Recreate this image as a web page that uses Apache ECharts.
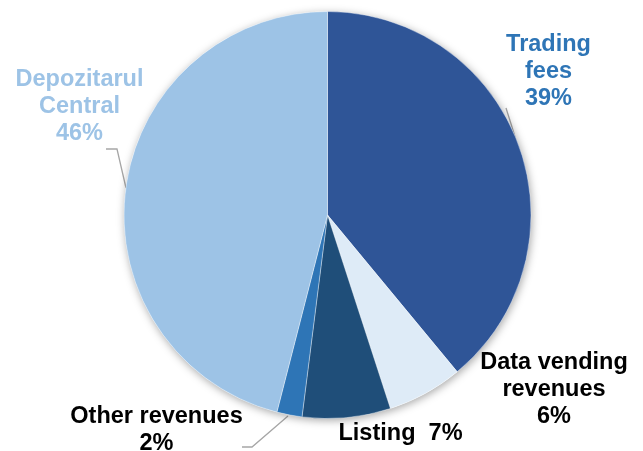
<!DOCTYPE html>
<html>
<head>
<meta charset="utf-8">
<script src="https://cdn.jsdelivr.net/npm/echarts@6/dist/echarts.min.js"></script>
<style>
    html, body { margin: 0; padding: 0; background: #fff; }
    #chart { width: 643px; height: 451px; }
</style>
</head>
<body>
<div id="chart"></div>
<script>
// 数据
var categories = ["Trading\nfees", "Data vending\nrevenues", "Listing", "Other revenues", "Depozitarul\nCentral"];
var values = [39, 6, 7, 2, 46];
var colors = ["#2F5597", "#DEEBF7", "#1F4E79", "#2E75B6", "#9DC3E6"];
var labelColors = ["#2E75B6", "#000000", "#000000", "#000000", "#9DC3E6"];

// 标签位置 (中心点) 和引导线
var labelPos = [[548.5, 72], [554, 390], [400.5, 433.5], [156.5, 430], [79.5, 106.5]];
var linePoints = [
    [[506, 108], [512, 127], [518, 147]],
    null,
    null,
    [[242, 447], [252, 447], [288, 416]],
    [[106, 149], [117, 149], [126, 188]]
];

var chart = echarts.init(document.getElementById("chart"));

var pieData = values.map(function (v, i) {
    return {
        name: categories[i],
        value: v,
        itemStyle: { color: colors[i] },
        label: { color: labelColors[i] },
        labelLine: { show: !!linePoints[i] }
    };
});

chart.setOption({
    animation: false,
    series: [
        {
            // 阴影底盘
            type: "pie",
            silent: true,
            center: [327.5, 215],
            radius: 203.5,
            label: { show: false },
            labelLine: { show: false },
            itemStyle: {
                color: "#ffffff",
                shadowBlur: 8,
                shadowOffsetX: 1,
                shadowOffsetY: 2,
                shadowColor: "rgba(0,0,0,0.35)"
            },
            data: [{ value: 1 }]
        },
        {
            type: "pie",
            center: [327.5, 215],
            radius: 203.5,
            startAngle: 90,
            clockwise: true,
            avoidLabelOverlap: false,
            itemStyle: {
                borderColor: "rgba(255,255,255,0.6)",
                borderWidth: 0.6
            },
            label: {
                show: true,
                position: "outside",
                fontFamily: "Liberation Sans, Arial, sans-serif",
                fontWeight: "bold",
                fontSize: 23.5,
                lineHeight: 27,
                align: "center",
                formatter: function (p) {
                    return p.name + (p.dataIndex === 2 ? "  " : "\n") + p.value + "%";
                }
            },
            labelLine: {
                lineStyle: { color: "#A6A6A6", width: 1.3 }
            },
            labelLayout: function (params) {
                var i = params.dataIndex;
                var res = {
                    x: labelPos[i][0],
                    y: labelPos[i][1],
                    align: "center",
                    verticalAlign: "middle"
                };
                if (linePoints[i]) {
                    res.labelLinePoints = linePoints[i];
                }
                return res;
            },
            data: pieData
        }
    ]
});
</script>
</body>
</html>
